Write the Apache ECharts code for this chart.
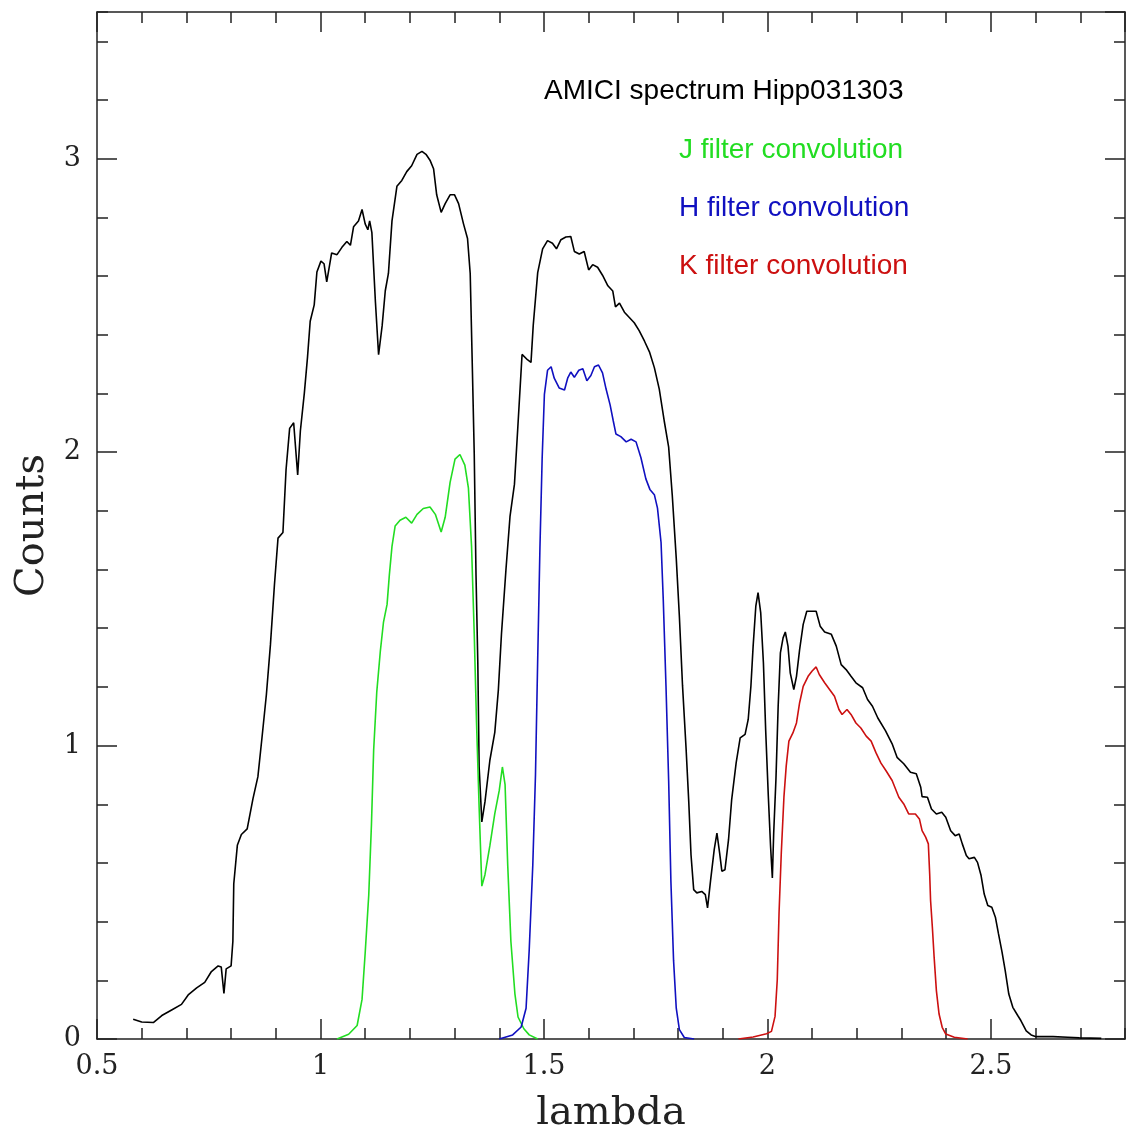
<!DOCTYPE html>
<html>
<head>
<meta charset="utf-8">
<script src="https://cdn.jsdelivr.net/npm/echarts@6/dist/echarts.min.js"></script>
<style>
  html, body { margin: 0; padding: 0; background: #fff; }
  #chart { width: 1128px; height: 1141px; }
</style>
</head>
<body>
<div id="chart"></div>
<script>
// AMICI spectrum (lambda, counts)
const spectrum = [
  [0.581, 0.067], [0.600, 0.058], [0.626, 0.056], [0.645, 0.080], [0.667, 0.099],
  [0.689, 0.118], [0.704, 0.150], [0.723, 0.174], [0.741, 0.193], [0.756, 0.230],
  [0.771, 0.249], [0.778, 0.245], [0.784, 0.155], [0.789, 0.239], [0.800, 0.249],
  [0.804, 0.333], [0.806, 0.529], [0.814, 0.660], [0.823, 0.697], [0.836, 0.716],
  [0.849, 0.819], [0.860, 0.894], [0.869, 1.025], [0.879, 1.174], [0.888, 1.343],
  [0.897, 1.548], [0.905, 1.707], [0.916, 1.726], [0.923, 1.941], [0.931, 2.081],
  [0.940, 2.100], [0.949, 1.922], [0.955, 2.072], [0.964, 2.203], [0.971, 2.324],
  [0.977, 2.446], [0.986, 2.502], [0.992, 2.614], [1.001, 2.651], [1.008, 2.642],
  [1.014, 2.580], [1.025, 2.679], [1.037, 2.673], [1.048, 2.698], [1.059, 2.718],
  [1.067, 2.705], [1.074, 2.768], [1.085, 2.788], [1.093, 2.827], [1.100, 2.778],
  [1.106, 2.758], [1.110, 2.788], [1.115, 2.748], [1.123, 2.510], [1.130, 2.332],
  [1.138, 2.431], [1.145, 2.550], [1.152, 2.609], [1.160, 2.788], [1.171, 2.906],
  [1.182, 2.926], [1.193, 2.956], [1.204, 2.976], [1.216, 3.015], [1.227, 3.025],
  [1.236, 3.015], [1.245, 2.995], [1.253, 2.966], [1.260, 2.877], [1.270, 2.817],
  [1.279, 2.847], [1.290, 2.877], [1.300, 2.877], [1.309, 2.847], [1.320, 2.778],
  [1.329, 2.728], [1.335, 2.609], [1.340, 2.273], [1.344, 1.996], [1.348, 1.580],
  [1.352, 1.283], [1.355, 0.927], [1.361, 0.740], [1.368, 0.808], [1.379, 0.950],
  [1.390, 1.045], [1.398, 1.190], [1.405, 1.382], [1.415, 1.600], [1.424, 1.780],
  [1.434, 1.891], [1.441, 2.071], [1.451, 2.333], [1.463, 2.315], [1.471, 2.306],
  [1.476, 2.432], [1.486, 2.612], [1.497, 2.693], [1.508, 2.721], [1.519, 2.712],
  [1.528, 2.693], [1.538, 2.724], [1.549, 2.733], [1.560, 2.735], [1.568, 2.684],
  [1.579, 2.675], [1.590, 2.684], [1.600, 2.621], [1.609, 2.639], [1.620, 2.630],
  [1.631, 2.603], [1.643, 2.567], [1.654, 2.549], [1.660, 2.495], [1.669, 2.508],
  [1.680, 2.477], [1.691, 2.459], [1.702, 2.441], [1.713, 2.414], [1.725, 2.378],
  [1.736, 2.342], [1.747, 2.288], [1.758, 2.215], [1.769, 2.107], [1.779, 2.017],
  [1.787, 1.855], [1.796, 1.638], [1.803, 1.440], [1.810, 1.205], [1.818, 0.989],
  [1.824, 0.808], [1.829, 0.628], [1.835, 0.509], [1.842, 0.498], [1.853, 0.503],
  [1.861, 0.492], [1.866, 0.447], [1.873, 0.543], [1.881, 0.646], [1.887, 0.702],
  [1.893, 0.634], [1.898, 0.572], [1.905, 0.577], [1.913, 0.680], [1.920, 0.816],
  [1.930, 0.941], [1.939, 1.026], [1.950, 1.038], [1.957, 1.089], [1.963, 1.202],
  [1.968, 1.339], [1.974, 1.475], [1.979, 1.521], [1.985, 1.452], [1.991, 1.282],
  [1.996, 1.055], [2.002, 0.827], [2.007, 0.657], [2.011, 0.549], [2.014, 0.702],
  [2.019, 0.884], [2.024, 1.134], [2.029, 1.316], [2.035, 1.367], [2.040, 1.387],
  [2.046, 1.339], [2.051, 1.248], [2.059, 1.191], [2.065, 1.236], [2.072, 1.327],
  [2.080, 1.413], [2.088, 1.458], [2.100, 1.458], [2.109, 1.458], [2.118, 1.407],
  [2.128, 1.387], [2.143, 1.379], [2.154, 1.339], [2.165, 1.276], [2.176, 1.259],
  [2.187, 1.236], [2.198, 1.214], [2.213, 1.197], [2.224, 1.157], [2.235, 1.134],
  [2.247, 1.094], [2.264, 1.051], [2.279, 1.006], [2.290, 0.960], [2.305, 0.938],
  [2.320, 0.909], [2.333, 0.904], [2.343, 0.858], [2.346, 0.826], [2.358, 0.824],
  [2.367, 0.784], [2.378, 0.767], [2.390, 0.773], [2.399, 0.756], [2.410, 0.710],
  [2.420, 0.693], [2.429, 0.699], [2.436, 0.665], [2.445, 0.625], [2.451, 0.614],
  [2.463, 0.619], [2.470, 0.602], [2.478, 0.557], [2.485, 0.494], [2.493, 0.455],
  [2.502, 0.449], [2.510, 0.415], [2.517, 0.358], [2.525, 0.295], [2.532, 0.233],
  [2.540, 0.153], [2.549, 0.108], [2.560, 0.080], [2.567, 0.063], [2.579, 0.028],
  [2.590, 0.014], [2.601, 0.008], [2.639, 0.008], [2.672, 0.006], [2.698, 0.004],
  [2.747, 0.002]
];

// J filter convolution
const jFilter = [
  [1.037, 0], [1.063, 0.016], [1.082, 0.046], [1.093, 0.135], [1.100, 0.293],
  [1.108, 0.491], [1.114, 0.729], [1.119, 0.986], [1.126, 1.184], [1.134, 1.323],
  [1.141, 1.421], [1.149, 1.481], [1.154, 1.580], [1.160, 1.679], [1.167, 1.748],
  [1.178, 1.768], [1.191, 1.778], [1.204, 1.758], [1.216, 1.788], [1.230, 1.808],
  [1.245, 1.813], [1.257, 1.788], [1.270, 1.728], [1.279, 1.778], [1.290, 1.897],
  [1.301, 1.976], [1.312, 1.992], [1.323, 1.956], [1.331, 1.877], [1.338, 1.679],
  [1.344, 1.382], [1.349, 1.085], [1.355, 0.788], [1.361, 0.521], [1.368, 0.560],
  [1.379, 0.659], [1.390, 0.768], [1.400, 0.847], [1.407, 0.927], [1.413, 0.867],
  [1.419, 0.590], [1.426, 0.333], [1.435, 0.154], [1.442, 0.075], [1.455, 0.035],
  [1.467, 0.014], [1.486, 0]
];

// H filter convolution
const hFilter = [
  [1.400, 0], [1.430, 0.014], [1.449, 0.041], [1.460, 0.105], [1.467, 0.303],
  [1.475, 0.592], [1.481, 0.898], [1.486, 1.295], [1.491, 1.674], [1.496, 1.981],
  [1.501, 2.197], [1.508, 2.279], [1.516, 2.291], [1.523, 2.252], [1.534, 2.219],
  [1.546, 2.212], [1.553, 2.252], [1.560, 2.273], [1.568, 2.255], [1.578, 2.279],
  [1.587, 2.284], [1.596, 2.243], [1.605, 2.261], [1.613, 2.291], [1.622, 2.297],
  [1.631, 2.270], [1.639, 2.215], [1.648, 2.161], [1.655, 2.107], [1.661, 2.062],
  [1.672, 2.053], [1.684, 2.035], [1.695, 2.044], [1.706, 2.035], [1.717, 1.981],
  [1.728, 1.909], [1.737, 1.873], [1.747, 1.855], [1.754, 1.809], [1.762, 1.692],
  [1.767, 1.494], [1.773, 1.205], [1.779, 0.880], [1.784, 0.538], [1.790, 0.267],
  [1.796, 0.105], [1.803, 0.032], [1.814, 0.005], [1.836, 0]
];

// K filter convolution
const kFilter = [
  [1.935, 0], [1.968, 0.007], [1.998, 0.018], [2.009, 0.026], [2.017, 0.077],
  [2.022, 0.202], [2.026, 0.430], [2.031, 0.634], [2.037, 0.827], [2.042, 0.930],
  [2.048, 1.015], [2.057, 1.043], [2.065, 1.077], [2.072, 1.146], [2.080, 1.202],
  [2.091, 1.236], [2.100, 1.254], [2.109, 1.268], [2.116, 1.242], [2.128, 1.214],
  [2.139, 1.191], [2.150, 1.168], [2.160, 1.123], [2.167, 1.106], [2.178, 1.123],
  [2.187, 1.106], [2.198, 1.077], [2.209, 1.060], [2.221, 1.032], [2.232, 1.015],
  [2.243, 0.975], [2.254, 0.940], [2.265, 0.915], [2.279, 0.881], [2.294, 0.824],
  [2.305, 0.801], [2.316, 0.767], [2.331, 0.767], [2.340, 0.750], [2.346, 0.710],
  [2.354, 0.688], [2.360, 0.665], [2.363, 0.563], [2.365, 0.472], [2.369, 0.381],
  [2.373, 0.278], [2.378, 0.165], [2.384, 0.085], [2.391, 0.040], [2.399, 0.017],
  [2.418, 0.006], [2.448, 0]
];

const legendLines = [
  { text: 'AMICI spectrum Hipp031303', color: '#000000' },
  { text: 'J filter convolution', color: '#22dd22' },
  { text: 'H filter convolution', color: '#1010c0' },
  { text: 'K filter convolution', color: '#cc1010' }
];

const chart = echarts.init(document.getElementById('chart'), null, { renderer: 'canvas' });

const tickFont = 'DejaVu Serif';
const frameColor = '#222';

// one axis of the frame; major/minor ticks are separate overlapping axes
function makeAxis(dim, position, interval, tickLen, opts) {
  const isX = dim === 'x';
  return {
    type: 'value',
    position: position,
    min: isX ? 0.5 : 0,
    max: isX ? 2.8 : 3.5,
    interval: interval,
    splitLine: { show: false },
    axisLine: { show: !!opts.line, onZero: false, lineStyle: { color: frameColor, width: 1.5 } },
    axisTick: { show: true, inside: true, length: tickLen, lineStyle: { color: frameColor, width: 1.5 } },
    axisLabel: opts.labels ? {
      show: true,
      color: '#222',
      fontFamily: tickFont,
      fontSize: 27,
      margin: isX ? 14 : 16,
      showMaxLabel: false,
      formatter: function (v) {
        if (isX) return Math.abs(v * 2 - Math.round(v * 2)) < 1e-6 ? String(v) : '';
        return Number.isInteger(v) ? String(v) : '';
      }
    } : { show: false },
    name: opts.name || '',
    nameLocation: 'middle',
    nameGap: opts.nameGap || 0,
    nameTextStyle: { fontFamily: tickFont, fontSize: 40, color: '#222' }
  };
}

const option = {
  animation: false,
  backgroundColor: '#ffffff',
  grid: { left: 97, right: 3, top: 12, bottom: 102, containLabel: false },
  xAxis: [
    makeAxis('x', 'bottom', 0.5, 20, { line: true, labels: true, name: 'lambda', nameGap: 55 }),
    makeAxis('x', 'bottom', 0.1, 11, {}),
    makeAxis('x', 'top', 0.5, 20, { line: true }),
    makeAxis('x', 'top', 0.1, 11, {})
  ],
  yAxis: [
    makeAxis('y', 'left', 1, 20, { line: true, labels: true, name: 'Counts', nameGap: 44 }),
    makeAxis('y', 'left', 0.2, 11, {}),
    makeAxis('y', 'right', 1, 20, { line: true }),
    makeAxis('y', 'right', 0.2, 11, {})
  ],
  graphic: legendLines.map((l, i) => ({
    type: 'text',
    x: i === 0 ? 544 : 679,
    y: [91, 150, 208, 266][i],
    silent: true,
    style: {
      text: l.text,
      fill: l.color,
      fontFamily: 'Liberation Sans',
      fontSize: 28,
      align: 'left',
      verticalAlign: 'middle'
    }
  })),
  series: [
    { name: 'spectrum', data: spectrum, color: '#000000' },
    { name: 'J', data: jFilter, color: legendLines[1].color },
    { name: 'H', data: hFilter, color: legendLines[2].color },
    { name: 'K', data: kFilter, color: legendLines[3].color }
  ].map(s => ({
    type: 'line',
    name: s.name,
    data: s.data,
    xAxisIndex: 0,
    yAxisIndex: 0,
    showSymbol: false,
    symbol: 'none',
    lineStyle: { color: s.color, width: 1.6 },
    itemStyle: { color: s.color }
  }))
};

chart.setOption(option);
</script>
</body>
</html>
